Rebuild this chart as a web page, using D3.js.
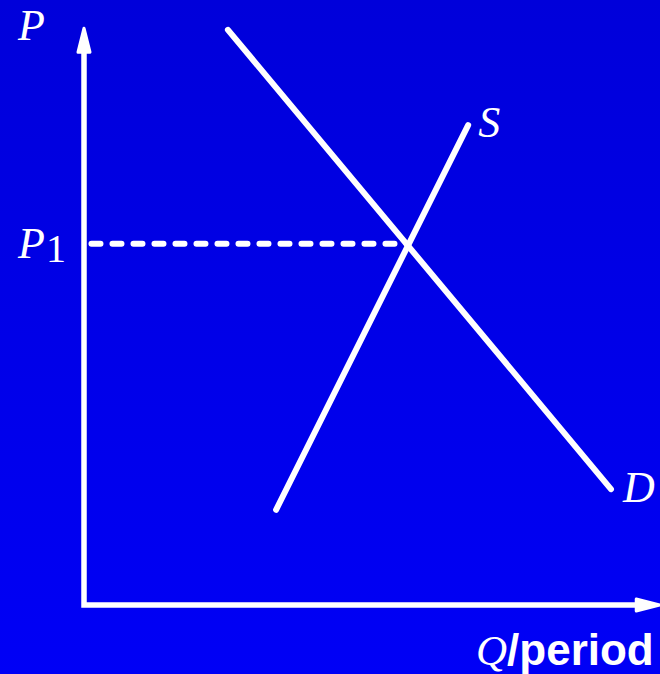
<!DOCTYPE html>
<html>

<head>
    <meta charset="UTF-8" />
    <title>supply and demand</title>
    <style>
        body {
            margin: 0;
            padding: 0;
            overflow: hidden;
        }
    </style>
</head>

<body>
    <div class="container"></div>

    <script src="https://cdnjs.cloudflare.com/ajax/libs/d3/7.8.5/d3.min.js"></script>
    <script>
        const w = 660;
        const h = 674;

        // curves in (quantity, price) units
        const demand = [{ q: 2.57, p: 10.27 }, { q: 9.41, p: 2.07 }];
        const supply = [{ q: 3.43, p: 1.70 }, { q: 6.86, p: 8.57 }];
        const equilibrium = { q: 5.77, p: 6.45 };
        const axisEnd = { q: 10.29, p: 10.3 };
        const labels = { price: "P", priceLevel: "P", priceSub: "1", supply: "S", demand: "D", qty: "Q", qtyUnit: "/period" };

        const x = d3.scaleLinear().domain([0, 10]).range([84, 644]);
        const y = d3.scaleLinear().domain([0, 10]).range([605, 45]);

        const svg = d3.select(".container").append('svg')
            .attr('width', w)
            .attr('height', h);

        const grad = svg.append('defs').append('linearGradient')
            .attr('id', 'bg')
            .attr('x1', 0).attr('y1', 0).attr('x2', 0).attr('y2', 1);
        grad.append('stop').attr('offset', '0%').attr('stop-color', '#0000da');
        grad.append('stop').attr('offset', '100%').attr('stop-color', '#0000f6');

        svg.append('rect')
            .attr('width', w)
            .attr('height', h)
            .attr('fill', 'url(#bg)');

        const lineGen = d3.line()
            .x(d => x(d.q))
            .y(d => y(d.p));

        // axes
        svg.append('path')
            .attr('d', lineGen([{ q: 0, p: axisEnd.p - 0.3 }, { q: 0, p: 0 }, { q: axisEnd.q - 0.3, p: 0 }]))
            .attr('stroke', 'white')
            .attr('stroke-width', 5.5)
            .attr('fill', 'none');

        // arrow heads
        const ax0 = x(0), ay0 = y(0);
        const tipY = y(axisEnd.p), tipX = x(axisEnd.q);
        svg.append('path')
            .attr('d', `M${ax0},${tipY} L${ax0 + 6},${tipY + 24} L${ax0 - 6},${tipY + 24} Z`)
            .attr('fill', 'white')
            .attr('stroke', 'white')
            .attr('stroke-width', 3)
            .attr('stroke-linejoin', 'round');
        svg.append('path')
            .attr('d', `M${tipX},${ay0} L${tipX - 24},${ay0 - 6} L${tipX - 24},${ay0 + 6} Z`)
            .attr('fill', 'white')
            .attr('stroke', 'white')
            .attr('stroke-width', 3)
            .attr('stroke-linejoin', 'round');

        // P1 dashed line
        svg.append('path')
            .attr('d', lineGen([{ q: 0.08, p: equilibrium.p }, { q: equilibrium.q, p: equilibrium.p }]))
            .attr('stroke', 'white')
            .attr('stroke-width', 6)
            .attr('stroke-dasharray', '9,12')
            .attr('stroke-dashoffset', -3)
            .attr('stroke-linecap', 'round');

        // D and S
        [demand, supply].forEach(d => {
            svg.append('path')
                .attr('d', lineGen(d))
                .attr('stroke', 'white')
                .attr('stroke-width', 6)
                .attr('stroke-linecap', 'round')
                .attr('fill', 'none');
        });

        const serif = "'Liberation Serif', 'DejaVu Serif', serif";
        const txt = (tx, ty, s, size) => svg.append('text')
            .attr('x', tx).attr('y', ty)
            .attr('fill', 'white')
            .attr('font-family', serif)
            .attr('font-style', 'italic')
            .attr('font-size', size)
            .text(s);

        txt(18, 40, labels.price, 44);
        const p1 = txt(18, 258, labels.priceLevel, 44);
        p1.append('tspan')
            .attr('font-style', 'normal')
            .attr('font-size', 40)
            .attr('dy', 4)
            .attr('dx', 1)
            .text(labels.priceSub);
        txt(x(supply[1].q) + 10, y(supply[1].p) + 12, labels.supply, 44);
        txt(x(demand[1].q) + 12, y(demand[1].p) + 13, labels.demand, 44);

        const q = txt(476, 665, labels.qty, 43);
        q.append('tspan')
            .attr('font-style', 'normal')
            .attr('font-family', "'Liberation Sans', Arial, sans-serif")
            .attr('font-weight', 'bold')
            .attr('font-size', 44)
            .text(labels.qtyUnit);
    </script>
</body>

</html>
